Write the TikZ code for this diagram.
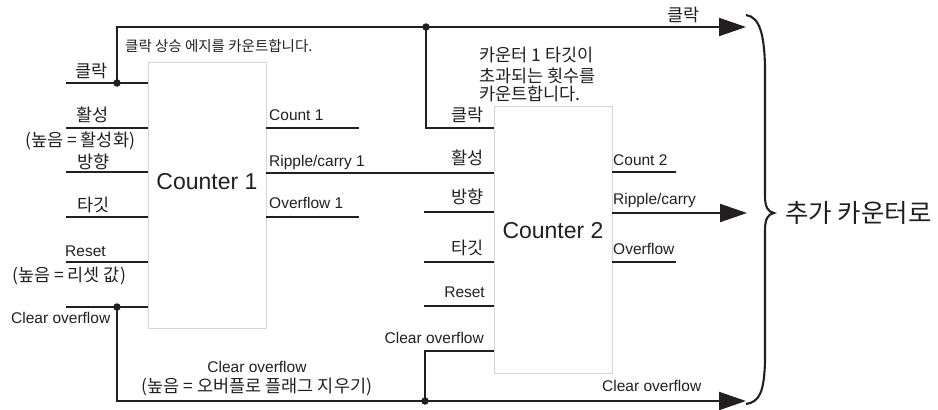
\documentclass[tikz,border=0pt]{standalone}
\usepackage{fontspec}
\setmainfont{Liberation Sans}
\newfontfamily\kr{Noto Sans CJK KR}
\usetikzlibrary{arrows.meta,calc}
\definecolor{lc}{HTML}{231F20}
\definecolor{boxgray}{HTML}{D6D6D6}
\newcommand\labf{\fontsize{15.5}{18}\selectfont}
\newcommand\krf{\kr\fontsize{17.5}{20}\selectfont}
\newcommand\krsmall{\kr\fontsize{14.5}{16}\selectfont}
\newcommand\bigf{\fontsize{23}{26}\selectfont}
\newcommand\krbig{\kr\fontsize{25.5}{28}\selectfont}
\begin{document}
\begin{tikzpicture}[x=1pt,y=-1pt,
  wire/.style={line width=2.1pt, draw=lc},
  arr/.style={wire, -{Triangle[length=27pt,width=18pt]}},
  box/.style={draw=boxgray, line width=0.8pt, fill=white, inner sep=0pt},
  lt/.style={inner sep=0pt, text=lc, font=\labf},
  kt/.style={inner sep=0pt, text=lc, font=\krf},
  dot/.style={circle, fill=lc, inner sep=0pt, minimum size=7.5pt}]
\useasboundingbox (0,0) rectangle (938,410);

% boxes
\node[box, minimum width=118pt, minimum height=266pt] (c1) at (207,195) {};
\node[box, minimum width=118pt, minimum height=267pt] (c2) at (553,239.5) {};
\node[inner sep=0pt, text=lc, font=\bigf] (c1t) at (207,182) {Counter 1};
\node[inner sep=0pt, text=lc, font=\bigf] (c2t) at (553,231) {Counter 2};

% junction dots
\node[dot] (j1) at (117,83) {};
\node[dot] (j2) at (426,27) {};
\node[dot] (j3) at (117,307) {};
\node[dot] (j4) at (425,401) {};

% counter 1 inputs
\coordinate (i1) at (66,83);
\coordinate (i2) at (66,128);
\coordinate (i3) at (66,172);
\coordinate (i4) at (66,217);
\coordinate (i5) at (66,262);
\coordinate (i6) at (66,307);
\foreach \n in {1,...,6} \draw[wire] (i\n) -- (i\n -| c1.west);

% counter 1 outputs
\coordinate (o1) at (359,128);
\coordinate (o3) at (359,217);
\coordinate (rc1) at (0,173);
\draw[wire] (o1 -| c1.east) -- (o1);
\draw[wire] (o3 -| c1.east) -- (o3);
\draw[wire] (rc1 -| c1.east) -- (rc1 -| c2.west);

% counter 2 inputs
\coordinate (k1) at (0,128);
\coordinate (k3) at (424,212);
\coordinate (k4) at (424,262);
\coordinate (k5) at (424,306);
\coordinate (k6) at (0,351);
\foreach \n in {3,4,5} \draw[wire] (k\n) -- (k\n -| c2.west);

% counter 2 outputs
\coordinate (p1) at (676,172);
\coordinate (p3) at (676,262);
\coordinate (out1) at (746,27);
\coordinate (out2) at (747,213);
\coordinate (out3) at (746,401);
\draw[wire] (p1 -| c2.east) -- (p1);
\draw[wire] (p3 -| c2.east) -- (p3);
\draw[arr] (out2 -| c2.east) -- (out2);

% clock and clear buses
\draw[arr] (j1.center) |- (out1);
\draw[wire] (j2.center) |- (k1 -| c2.west);
\draw[arr] (j3.center) |- (out3);
\draw[wire] (j4.center) |- (k6 -| c2.west);

% brace
\draw[wire] (746,15) .. controls (760,17) and (764,35) .. (765,65) -- (765,196)
  .. controls (765,207) and (768,212) .. (774,213)
  .. controls (768,214) and (765,219) .. (765,230) -- (765,362)
  .. controls (764,391) and (760,402) .. (746,404);
\node[inner sep=0pt, text=lc, font=\krbig, anchor=west] (more) at (785,213) {추가 카운터로};

% counter 1 labels
\node[kt, anchor=base west] (l1) at (75,77.5) {클락};
\node[kt, anchor=base west] (l2) at (76,121.5) {활성};
\node[kt, anchor=base west] (l2b) at (25,146.5) {(높음 = 활성화)};
\node[kt, anchor=base west] (l3) at (77,168.5) {방향};
\node[kt, anchor=base west] (l4) at (77,211.5) {타깃};
\node[lt, anchor=base west] (l5) at (65,256.5) {Reset};
\node[kt, anchor=base west] (l5b) at (12,281.5) {(높음 = 리셋 값)};
\node[lt, anchor=base west] (l6) at (11,323.5) {Clear overflow};

\node[lt, anchor=base west] (m1) at (269,120.5) {Count 1};
\node[lt, anchor=base west] (m2) at (269,166.5) {Ripple/carry 1};
\node[lt, anchor=base west] (m3) at (269,208.5) {Overflow 1};

% counter 2 labels
\node[kt, anchor=base east] (n1) at (484,121.5) {클락};
\node[kt, anchor=base east] (n2) at (484,164.5) {활성};
\node[kt, anchor=base east] (n3) at (484,203.5) {방향};
\node[kt, anchor=base east] (n4) at (484,254.5) {타깃};
\node[lt, anchor=base east] (n5) at (485,297.5) {Reset};
\node[lt, anchor=base east] (n6) at (484,343.5) {Clear overflow};

\node[lt, anchor=base west] (q1) at (613,165.5) {Count 2};
\node[lt, anchor=base west] (q2) at (613,204.5) {Ripple/carry};
\node[lt, anchor=base west] (q3) at (613,254.5) {Overflow};
\node[lt, anchor=base west] (q4) at (602,391.5) {Clear overflow};
\node[kt, anchor=base west] (q5) at (667,21.5) {클락};

% notes
\node[inner sep=0pt, text=lc, font=\krsmall, anchor=base west] (a1) at (125,51.5) {클락 상승 에지를 카운트합니다.};
\node[kt, anchor=base west] (a2) at (479,61.5) {카운터 1 타깃이};
\node[kt, anchor=base west] (a2b) at (479,82.5) {초과되는 횟수를};
\node[kt, anchor=base west] (a2c) at (479,100.5) {카운트합니다.};
\node[lt, anchor=base] (a3) at (257,372.5) {Clear overflow};
\node[kt, anchor=base] (a4) at (257,392.5) {(높음 = 오버플로 플래그 지우기)};
\end{tikzpicture}
\end{document}
